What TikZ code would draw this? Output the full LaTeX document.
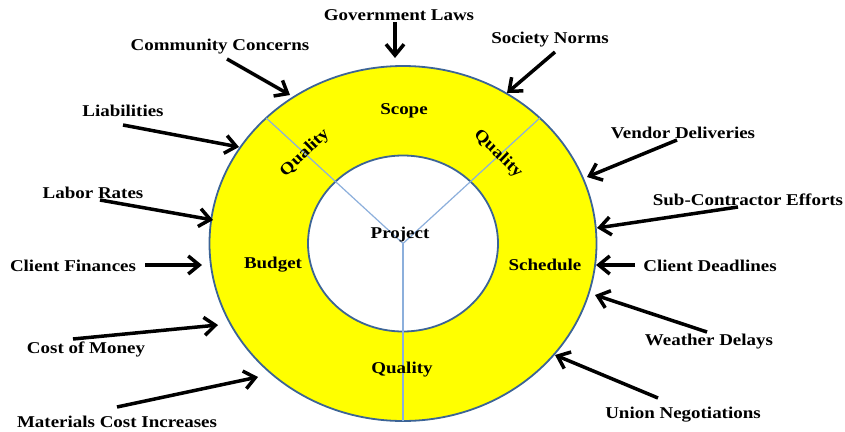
\documentclass[tikz,border=0pt]{standalone}
\usepackage{fontspec}
\setmainfont{Liberation Serif}
\newfontfamily\lblfont[FakeStretch=1.15]{Liberation Serif}
\usetikzlibrary{arrows.meta}
\definecolor{ringedge}{RGB}{60,100,150}
\definecolor{spoke}{RGB}{140,175,220}
\definecolor{ringfill}{RGB}{255,255,0}
\begin{document}
\begin{tikzpicture}[x=1pt,y=-1pt,
  lbl/.style={font=\lblfont\bfseries\fontsize{16.5}{18}\selectfont, inner sep=0pt, anchor=base},
  seg/.style={font=\lblfont\bfseries\fontsize{16.5}{18}\selectfont, inner sep=0pt, anchor=center},
  push/.style={line width=3.5pt, -{Straight Barb[length=11pt,width=18pt]}},
  edge/.style={draw=ringedge, line width=1.8pt},
  spokeline/.style={draw=spoke, line width=1.2pt},
]
\useasboundingbox (0,0) rectangle (845,431);

% ring: yellow band with a white hub
\coordinate (c) at (403,243.5);
\path[edge, fill=ringfill] (c) ellipse [x radius=193.5, y radius=177.5];
\path[edge, fill=white] (c) ellipse [x radius=95, y radius=88];

% three spokes from the hub centre to the outer rim
\coordinate (s1) at (266.2,118);
\coordinate (s2) at (539.8,118);
\coordinate (s3) at (403,421);
\draw[spokeline] (c) -- (s1);
\draw[spokeline] (c) -- (s2);
\draw[spokeline] (c) -- (s3);

% segment labels
\node[seg] (scope) at (404,111) {Scope};
\node[seg, rotate=44] (qleft) at (305,153) {Quality};
\node[seg, rotate=-44] (qright) at (498,154) {Quality};
\node[seg] (budget) at (273,265) {Budget};
\node[seg] (schedule) at (545,265) {Schedule};
\node[seg] (project) at (400,235) {Project};
\node[seg] (qbottom) at (402,370) {Quality};

% outside influences
\node[lbl] (gov) at (399,20) {Government Laws};
\node[lbl] (com) at (220,50) {Community Concerns};
\node[lbl] (soc) at (550,43) {Society Norms};
\node[lbl] (lia) at (123,116) {Liabilities};
\node[lbl] (ven) at (683,138) {Vendor Deliveries};
\node[lbl] (lab) at (93,198) {Labor Rates};
\node[lbl] (sub) at (748,205) {Sub-Contractor Efforts};
\node[lbl] (cfi) at (73,271) {Client Finances};
\node[lbl] (cde) at (710,271) {Client Deadlines};
\node[lbl] (cost) at (86,353) {Cost of Money};
\node[lbl] (wea) at (709,345) {Weather Delays};
\node[lbl] (mat) at (117,427) {Materials Cost Increases};
\node[lbl] (uni) at (683,418) {Union Negotiations};

% arrow ends
\coordinate (gov-t) at (395,22);  \coordinate (gov-h) at (395,58);
\coordinate (com-t) at (227,59);  \coordinate (com-h) at (290,95);
\coordinate (soc-t) at (555,52);  \coordinate (soc-h) at (507,93);
\coordinate (lia-t) at (123,125); \coordinate (lia-h) at (239,147);
\coordinate (ven-t) at (677,140); \coordinate (ven-h) at (587,177);
\coordinate (lab-t) at (100,200); \coordinate (lab-h) at (213,220);
\coordinate (sub-t) at (738,207); \coordinate (sub-h) at (597,228);
\coordinate (cfi-t) at (145,265); \coordinate (cfi-h) at (202,265);
\coordinate (cde-t) at (635,265); \coordinate (cde-h) at (596,265);
\coordinate (cost-t) at (73,339); \coordinate (cost-h) at (218,325);
\coordinate (wea-t) at (707,332); \coordinate (wea-h) at (595,295);
\coordinate (mat-t) at (117,407); \coordinate (mat-h) at (258,377);
\coordinate (uni-t) at (658,398); \coordinate (uni-h) at (555,355);

\foreach \k in {gov,com,soc,lia,ven,lab,sub,cfi,cde,cost,wea,mat,uni}
  \draw[push] (\k-t) -- (\k-h);
\end{tikzpicture}
\end{document}
